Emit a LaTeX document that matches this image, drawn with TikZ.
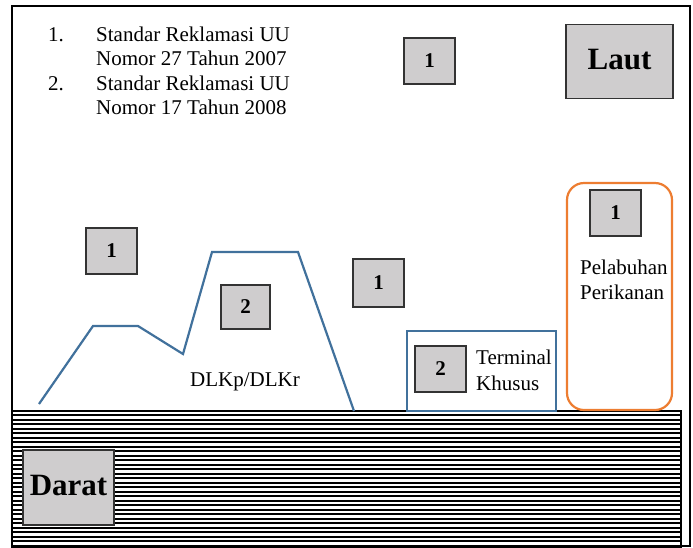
\documentclass[tikz,border=0pt]{standalone}
\usepackage{fontspec}
\setmainfont{Liberation Serif}
\definecolor{boxgray}{HTML}{CFCDCE}
\definecolor{lineblue}{HTML}{41719C}
\definecolor{lineorange}{HTML}{ED7D31}
\begin{document}
\begin{tikzpicture}[x=1pt,y=-1pt,
  numbox/.style={draw=black!80, fill=boxgray, line width=1.1pt, minimum width=51pt, minimum height=46pt, inner sep=0pt, font=\fontsize{21}{21}\selectfont\bfseries},
  bigbox/.style={draw=black!80, fill=boxgray, line width=1.1pt, inner sep=0pt, font=\fontsize{31}{31}\selectfont\bfseries},
  txt/.style={inner sep=0pt, font=\fontsize{21}{24.5}\selectfont, align=left},
  bluel/.style={draw=lineblue, line width=2.2pt},
]
\useasboundingbox (0,0) rectangle (693,547);
\fill[white] (0,0) rectangle (693,547);
% outer frame
\draw[line width=1.5pt] (12,6) rectangle (690,546);
% hatched land
\begin{scope}
\clip (12,411) rectangle (681,547);
\foreach \y in {415,419.5,...,547} \draw[line width=2pt] (12,\y) -- (681,\y);
\end{scope}
\draw[line width=1.6pt] (12,411) rectangle (681,547);
% list text
\node[txt, anchor=base west] (n1) at (48,41) {1.};
\node[txt, anchor=base west] (t1) at (96,65.5) {Standar Reklamasi UU\\Nomor 27 Tahun 2007};
\node[txt, anchor=base west] (n2) at (48,90) {2.};
\node[txt, anchor=base west] (t2) at (96,114.5) {Standar Reklamasi UU\\Nomor 17 Tahun 2008};
% Laut and Darat
\node[bigbox, minimum width=107pt, minimum height=74pt] (laut) at (619.5,61.5) {\raisebox{5pt}{Laut}};
\node[bigbox, minimum width=91pt, minimum height=75pt] (darat) at (68.5,487.5) {\raisebox{5pt}{Darat}};
% DLKp/DLKr polyline
\coordinate (p1) at (39,404);
\coordinate (p2) at (93,326);
\coordinate (p3) at (138,326);
\coordinate (p4) at (183,354);
\coordinate (p5) at (212,252);
\coordinate (p6) at (298,252);
\coordinate (p7) at (354,411);
\draw[bluel, line join=miter] (p1) -- (p2) -- (p3) -- (p4) -- (p5) -- (p6) -- (p7);
\node[txt, anchor=base] (dlk) at (245,386) {DLKp/DLKr};
% Terminal Khusus
\draw[bluel] (407,331) rectangle (556,411);
\node[txt, anchor=base west] (tk) at (476,390) {Terminal\\[1.5pt]Khusus};
% Pelabuhan Perikanan
\draw[draw=lineorange, line width=2.2pt, rounded corners=17pt] (567,183) rectangle (672,410);
\node[txt, anchor=base west] (pp) at (580,299) {Pelabuhan\\Perikanan};
% numbered boxes
\node[numbox] (b1a) at (429.5,61) {1};
\node[numbox] (b1b) at (111.5,251) {1};
\node[numbox, minimum width=49pt, minimum height=44pt] (b2a) at (245.5,307) {2};
\node[numbox, minimum height=48pt] (b1c) at (378.5,283) {1};
\node[numbox] (b2b) at (440.5,369) {2};
\node[numbox] (b1d) at (615.5,213) {1};
\end{tikzpicture}
\end{document}
